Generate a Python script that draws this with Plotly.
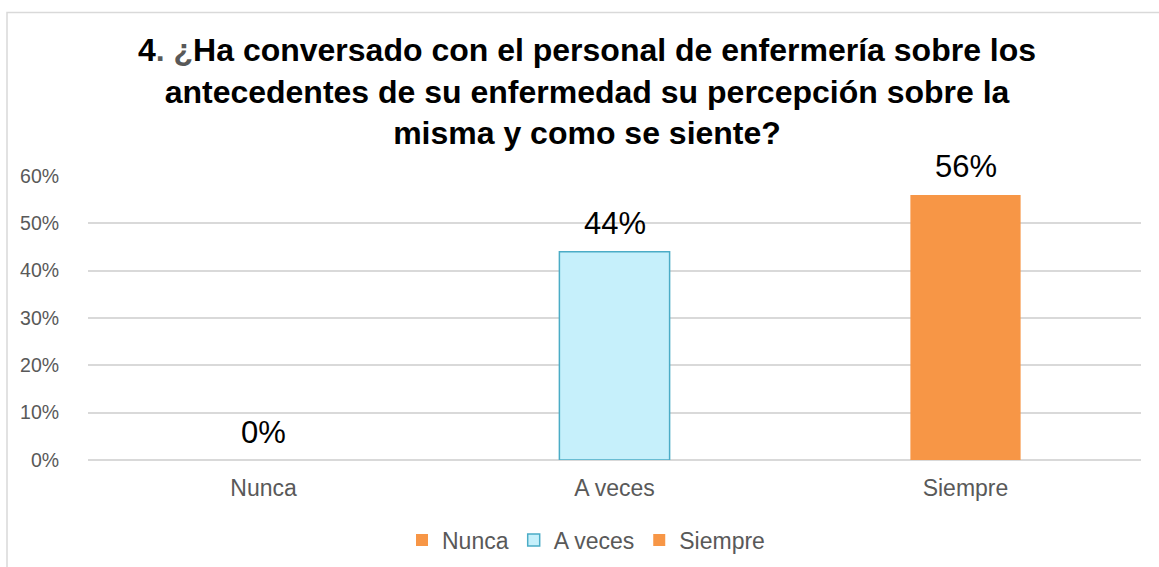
import plotly.graph_objects as go

categories = ["Nunca", "A veces", "Siempre"]
values = [0, 44, 56]
labels = ["0%", "44%", "56%"]
y_ticks = [0, 10, 20, 30, 40, 50, 60]
y_tick_labels = ["0%", "10%", "20%", "30%", "40%", "50%", "60%"]

colors = ["#F79646", "#C6F0FB", "#F79646"]
line_colors = ["#F79646", "#4BACC6", "#F79646"]
line_widths = [0, 1.5, 0]

FONT = "Arial, 'Liberation Sans', sans-serif"
W, H = 1159, 567
L, R, T, B = 88, 18, 176, 107
PW, PH = W - L - R, H - T - B

fig = go.Figure()
for cat, val, c, lc, lw in zip(categories, values, colors, line_colors, line_widths):
    fig.add_trace(go.Bar(
        x=[cat], y=[val], name=cat, width=0.314,
        marker=dict(color=c, line=dict(color=lc, width=lw)),
        hoverinfo="skip",
    ))

for cat, val, lab in zip(categories, values, labels):
    fig.add_annotation(x=cat, y=val, text=lab, showarrow=False,
                       yanchor="middle", yshift=28,
                       font=dict(family=FONT, size=31, color="#000000"))

title = ("<b>4<span style='color:#595959'>. ¿</span>Ha conversado con el personal de enfermería sobre los<br>"
         "antecedentes de su enfermedad su percepción sobre la<br>"
         "misma y como se siente?</b>")

# chart border (decorative)
fig.add_shape(type="rect", xref="paper", yref="paper",
              x0=(7 - L) / PW, x1=(W + 10 - L) / PW,
              y0=(H - B - (H + 10)) / PH, y1=(H - B - 12.5) / PH,
              line=dict(color="#D9D9D9", width=1.5), fillcolor="rgba(0,0,0,0)", layer="below")

fig.update_layout(
    width=W, height=H,
    margin=dict(l=L, r=R, t=T, b=B, autoexpand=False),
    paper_bgcolor="white", plot_bgcolor="white",
    barmode="overlay",
    title=dict(text=title, x=587 / W, xanchor="center", y=1 - 61 / H, yanchor="middle",
               font=dict(family=FONT, size=32, color="#000000")),
    showlegend=True,
    legend=dict(orientation="h", x=(586 - L) / PW, xanchor="center",
                y=-(80 / PH), yanchor="middle",
                font=dict(family=FONT, size=23, color="#595959"),
                itemwidth=30, traceorder="normal"),
    xaxis=dict(showgrid=False, showline=False, zeroline=False, automargin=False,
               ticks="outside", ticklen=7, tickcolor="rgba(0,0,0,0)",
               tickfont=dict(family=FONT, size=23, color="#595959")),
    yaxis=dict(range=[0, 60], tickvals=y_ticks, ticktext=y_tick_labels, automargin=False,
               showgrid=True, gridcolor="#D9D9D9", gridwidth=1.5,
               zeroline=True, zerolinecolor="#D9D9D9", zerolinewidth=1.5,
               showline=False, ticks="outside", ticklen=24, tickcolor="rgba(0,0,0,0)",
               tickfont=dict(family=FONT, size=19.5, color="#595959")),
)

fig.write_html("out.html")
